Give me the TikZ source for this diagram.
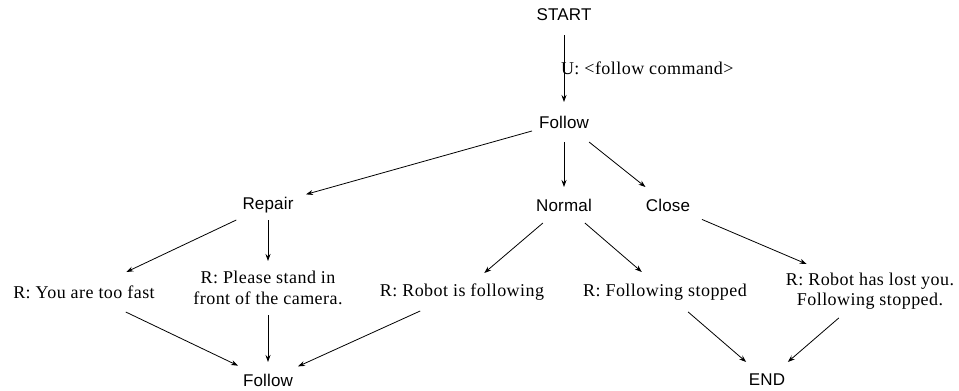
\documentclass[tikz,border=0pt]{standalone}
\usepackage{fontspec}
\setmainfont[LetterSpace=2.5]{Liberation Serif}
\newfontfamily\sansf[LetterSpace=1]{Liberation Sans}
\usetikzlibrary{arrows.meta}
\begin{document}
\begin{tikzpicture}[x=1pt,y=-1pt,
  every node/.style={inner sep=0pt,outer sep=0pt},
  st/.style={font=\sansf\fontsize{17}{20}\selectfont},
  rt/.style={font=\fontsize{18}{20.5}\selectfont, align=center},
  box/.style 2 args={minimum width=#1pt, minimum height=#2pt},
  arr/.style={-{Stealth[length=7pt,width=5pt]}, line width=0.8pt}]
\useasboundingbox (0,0) rectangle (959,391);
\node[st, box={60}{40}] (start) at (564,15) {START};
\node[st, box={64}{40}] (follow1) at (564,122) {Follow};
\node[st, box={76}{30}] (repair) at (268,205) {Repair};
\node[st, box={60}{36}] (normal) at (564,205) {Normal};
\node[st, box={68}{36}] (close) at (668,205) {Close};
\node[rt, box={150}{40}] (fast) at (84,292) {R: You are too fast};
\node[rt, box={160}{54}] (please) at (268,288) {R: Please stand in\\front of the camera.};
\node[rt, box={170}{38}] (robotf) at (462,292) {R: Robot is following};
\node[rt, box={168}{40}] (fstop) at (665,292) {R: Following stopped};
\node[rt, box={170}{54}] (lost) at (870,291) {R: Robot has lost you.\\Following stopped.};
\node[st, box={60}{36}] (follow2) at (268,380) {Follow};
\node[st, box={50}{36}] (end) at (767,380) {END};

\draw[arr] (start) -- node[rt, anchor=west, xshift=-3pt] {U: <follow command>} (follow1);
\draw[arr] (follow1) -- (repair);
\draw[arr] (follow1) -- (normal);
\draw[arr] (follow1) -- (close);
\draw[arr] (repair) -- (fast);
\draw[arr] (repair) -- (please);
\draw[arr] (normal) -- (robotf);
\draw[arr] (normal) -- (fstop);
\draw[arr] (close) -- (lost);
\draw[arr] (fast) -- (follow2);
\draw[arr] (please) -- (follow2);
\draw[arr] (robotf) -- (follow2);
\draw[arr] (fstop) -- (end);
\draw[arr] (lost) -- (end);
\end{tikzpicture}
\end{document}
